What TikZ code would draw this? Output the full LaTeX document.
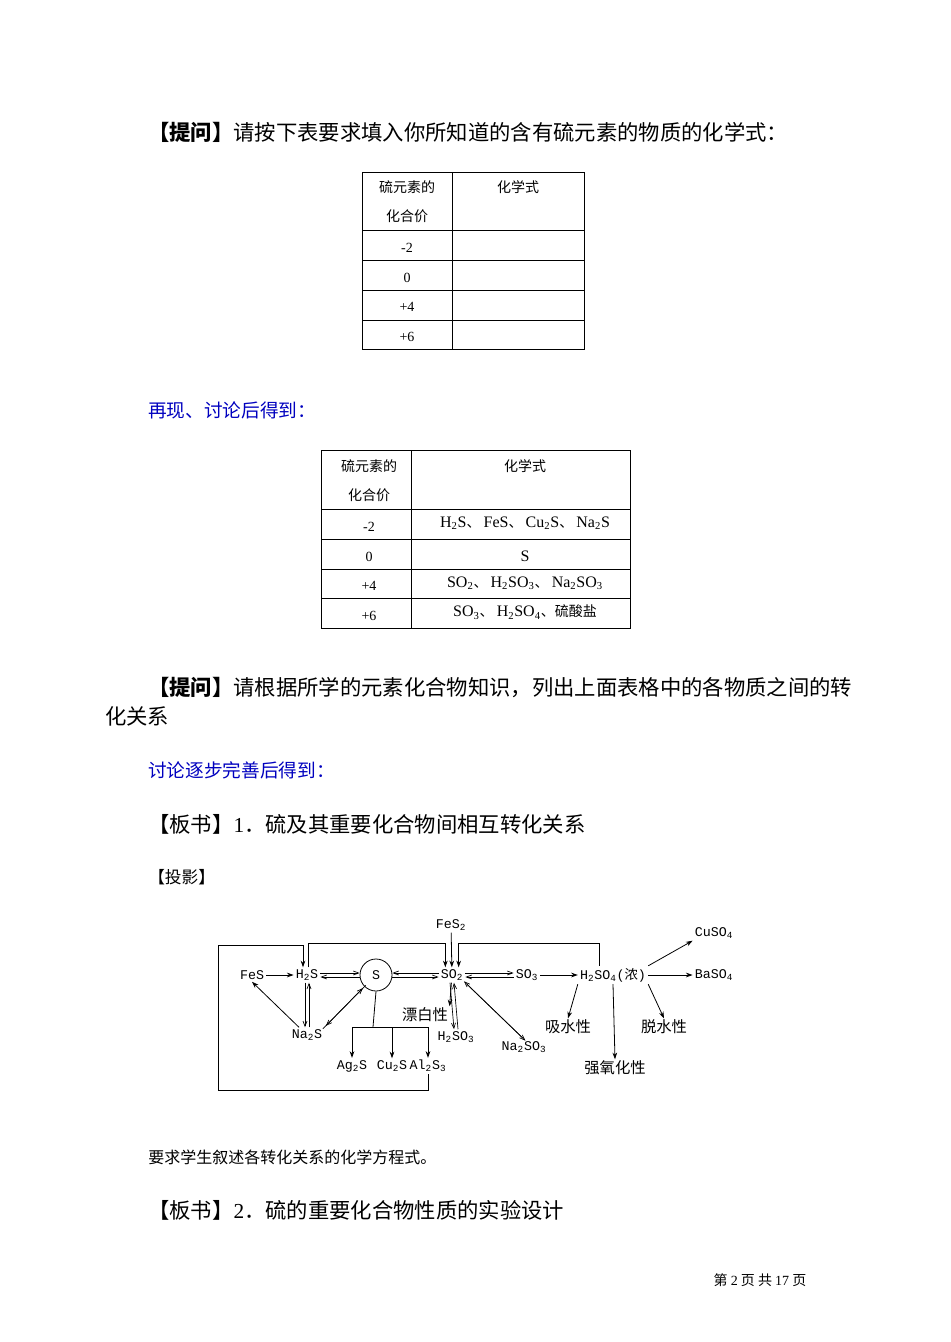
\documentclass[tikz,border=0pt]{standalone}
\usepackage{fontspec}
\setmainfont{Noto Sans CJK SC}
\newfontfamily\cjk{Noto Sans CJK SC}
\newfontfamily\lat{Liberation Serif}
\newfontfamily\mono{Liberation Mono}
\usetikzlibrary{arrows.meta}
\newcommand{\ssb}[1]{\textsubscript{#1}}
\begin{document}
\begin{tikzpicture}[x=0.75pt,y=-0.75pt,
  body/.style={anchor=west,inner sep=0,font=\fontsize{16pt}{18pt}\selectfont},
  blue/.style={body,text=blue!75!black,font=\fontsize{14pt}{16pt}\selectfont},
  cell/.style={inner sep=0,font=\fontsize{10.5pt}{12pt}\selectfont},
  chem/.style={inner sep=1.5pt,font=\mono\fontsize{10pt}{11pt}\selectfont},
  prop/.style={inner sep=1pt,font=\fontsize{11.5pt}{13pt}\selectfont},
  arr/.style={-{Stealth[length=5pt,width=3.5pt]},line width=0.6pt},
  harp/.style={-{Straight Barb[length=4pt,width=3pt]},line width=0.5pt},
  ln/.style={line width=0.6pt}]
\path[use as bounding box,fill=white] (0,0) rectangle (950,1342);
\node[body] (q1) at (148,132) {\textbf{【提问】}请按下表要求填入你所知道的含有硫元素的物质的化学式：};
% table 1
\draw[line width=0.6pt] (362,172) rectangle (584,349);
\draw (452,172) -- (452,349);
\foreach \y in {230,260,290,320} \draw (362,\y) -- (584,\y);
\node[cell] (t1a) at (407,187) {硫元素的};
\node[cell] (t1b) at (407,216) {化合价};
\node[cell] (t1c) at (518,187) {化学式};
\node[cell,font=\lat\fontsize{10.5pt}{12pt}\selectfont] (t1d) at (407,248) {-2};
\node[cell,font=\lat\fontsize{10.5pt}{12pt}\selectfont] (t1e) at (407,278) {0};
\node[cell,font=\lat\fontsize{10.5pt}{12pt}\selectfont] (t1f) at (407,307) {+4};
\node[cell,font=\lat\fontsize{10.5pt}{12pt}\selectfont] (t1g) at (407,337) {+6};
\node[blue] (r1) at (148,410) {再现、讨论后得到：};
% table 2
\draw[line width=0.6pt] (321,450) rectangle (630,628);
\draw (411,450) -- (411,628);
\foreach \y in {509,539,569,598} \draw (321,\y) -- (630,\y);
\node[cell] (t2a) at (369,466) {硫元素的};
\node[cell] (t2b) at (369,495) {化合价};
\node[cell] (t2c) at (525,466) {化学式};
\node[cell,font=\lat\fontsize{10.5pt}{12pt}\selectfont] (t2d) at (369,527) {-2};
\node[cell,font=\lat\fontsize{10.5pt}{12pt}\selectfont] (t2e) at (369,557) {0};
\node[cell,font=\lat\fontsize{10.5pt}{12pt}\selectfont] (t2f) at (369,586) {+4};
\node[cell,font=\lat\fontsize{10.5pt}{12pt}\selectfont] (t2g) at (369,616) {+6};
\node[cell] (t2h) at (525,523) {{\lat\large H\ssb{2}S}、 {\lat\large FeS}、 {\lat\large Cu\ssb{2}S}、 {\lat\large Na\ssb{2}S}};
\node[cell,font=\lat\fontsize{12pt}{12pt}\selectfont] (t2i) at (525,556) {S};
\node[cell] (t2j) at (525,583) {{\lat\large SO\ssb{2}}、 {\lat\large H\ssb{2}SO\ssb{3}}、 {\lat\large Na\ssb{2}SO\ssb{3}}};
\node[cell] (t2k) at (525,612) {{\lat\large SO\ssb{3}}、 {\lat\large H\ssb{2}SO\ssb{4}}、硫酸盐};
\node[body] (q2) at (148,688) {\textbf{【提问】}请根据所学的元素化合物知识，列出上面表格中的各物质之间的转};
\node[body] (q2b) at (105,716) {化关系};
\node[blue] (r2) at (148,770) {讨论逐步完善后得到：};
\node[body] (b1) at (148,824) {【板书】{\lat 1}．硫及其重要化合物间相互转化关系};
\node[body,font=\fontsize{12.5pt}{14pt}\selectfont] (ty) at (148,877) {【投影】};
% diagram
\node[chem] (fes) at (252,975) {FeS};
\node[chem] (h2s) at (307,975) {H\ssb{2}S};
\node[circle,draw,line width=0.6pt,minimum size=24pt,inner sep=0,font=\mono\fontsize{10pt}{11pt}\selectfont] (s) at (376,975) {S};
\node[chem] (so2) at (452,975) {SO\ssb{2}};
\node[chem] (so3) at (527,975) {SO\ssb{3}};
\node[chem] (h2so4) at (613,975) {H\ssb{2}SO\ssb{4}({\cjk 浓})};
\node[chem] (baso4) at (714,975) {BaSO\ssb{4}};
\node[chem] (cuso4) at (714,933) {CuSO\ssb{4}};
\node[chem] (fes2) at (451,925) {FeS\ssb{2}};
\node[chem] (na2s) at (307,1035) {Na\ssb{2}S};
\node[prop] (pb) at (425,1015) {漂白性};
\node[chem] (h2so3) at (456,1037) {H\ssb{2}SO\ssb{3}};
\node[chem] (na2so3) at (524,1047) {Na\ssb{2}SO\ssb{3}};
\node[chem] (ag2s) at (352,1066) {Ag\ssb{2}S};
\node[chem] (cu2s) at (392,1066) {Cu\ssb{2}S};
\node[chem] (al2s3) at (428,1066) {Al\ssb{2}S\ssb{3}};
\node[prop] (xs) at (568,1027) {吸水性};
\node[prop] (ts) at (664,1027) {脱水性};
\node[prop] (qy) at (615,1068) {强氧化性};
\coordinate (bar) at (373,1027);
\draw[arr] (fes) -- (h2s);
\draw[arr] (so3) -- (h2so4);
\draw[arr] (h2so4) -- (baso4);
\draw[arr] (h2so4.north east) -- (cuso4.south west);
\draw[arr] (so2) -- (pb.north east);
\draw[arr] (na2s) -- (fes.south);
\draw[arr] (fes2) -- (so2);
\draw[arr] (h2so4.south west) -- (xs.north);
\draw[arr] (h2so4.south) -- (qy.north);
\draw[arr] (h2so4.south east) -- (ts.north);
\draw[harp] ([yshift=1.5pt]h2s.east) -- ([yshift=1.5pt]s.west);
\draw[harp] ([yshift=-1.5pt]s.west) -- ([yshift=-1.5pt]h2s.east);
\draw[harp] ([yshift=1.5pt]so2.west) -- ([yshift=1.5pt]s.east);
\draw[harp] ([yshift=-1.5pt]s.east) -- ([yshift=-1.5pt]so2.west);
\draw[harp] ([yshift=1.5pt]so2.east) -- ([yshift=1.5pt]so3.west);
\draw[harp] ([yshift=-1.5pt]so3.west) -- ([yshift=-1.5pt]so2.east);
\draw[harp] ([xshift=-1.5pt]h2s.south) -- ([xshift=-1.5pt]na2s.north);
\draw[harp] ([xshift=1.5pt]na2s.north) -- ([xshift=1.5pt]h2s.south);
\draw[harp] ([xshift=-1.5pt]so2.south) -- ([xshift=-1.5pt]h2so3.north);
\draw[harp] ([xshift=1.5pt]h2so3.north) -- ([xshift=1.5pt]so2.south);
\draw[harp,transform canvas={shift={(-1.1pt,-1.1pt)}}] (na2s.north east) -- (s.south west);
\draw[harp,transform canvas={shift={(1.1pt,1.1pt)}}] (s.south west) -- (na2s.north east);
\draw[harp,transform canvas={shift={(1.1pt,-1.1pt)}}] (so2.south east) -- (na2so3.north);
\draw[harp,transform canvas={shift={(-1.1pt,1.1pt)}}] (na2so3.north) -- (so2.south east);
\draw[ln] (s.south) -- (bar);
\draw[ln] (ag2s.north |- bar) -- (al2s3.north |- bar);
\draw[arr] (ag2s.north |- bar) -- (ag2s.north);
\draw[arr] (cu2s.north |- bar) -- (cu2s.north);
\draw[arr] (al2s3.north |- bar) -- (al2s3.north);
\draw[arr] (al2s3.south) -- (al2s3.south |- 0,1090) -- (218,1090) -- (218,945) -- ([xshift=-3pt]h2s.north |- 0,945) -- ([xshift=-3pt]h2s.north);
\draw[arr] ([xshift=1pt]h2s.north) -- ([xshift=1pt]h2s.north |- 0,943) -- ([xshift=-5pt]so2.north |- 0,943) -- ([xshift=-5pt]so2.north);
\draw[arr] ([xshift=-10pt]h2so4.north) -- ([xshift=-10pt]h2so4.north |- 0,943) -- ([xshift=5pt]so2.north |- 0,943) -- ([xshift=5pt]so2.north);
\node[body,font=\fontsize{12pt}{14pt}\selectfont] (req) at (148,1157) {要求学生叙述各转化关系的化学方程式。};
\node[body] (b2) at (148,1210) {【板书】{\lat 2}．硫的重要化合物性质的实验设计};
\node[inner sep=0,font=\fontsize{10.5pt}{12pt}\selectfont] (pg) at (760,1280) {第 {\lat 2} 页 共 {\lat 17} 页};
\end{tikzpicture}
\end{document}
